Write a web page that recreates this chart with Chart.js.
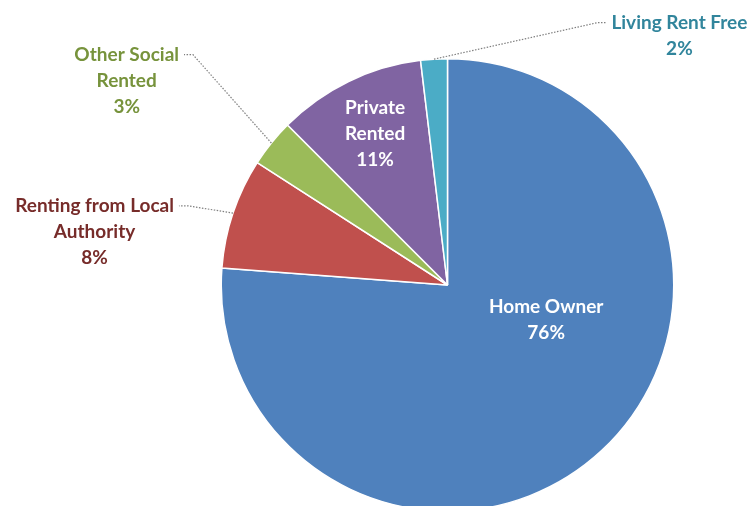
<!DOCTYPE html>
<html>
<head>
<meta charset="utf-8">
<script src="https://cdn.jsdelivr.net/npm/chart.js@4/dist/chart.umd.min.js"></script>
<style>
  html, body { margin: 0; padding: 0; background: #fff; overflow: hidden; }
  #wrap { width: 753px; height: 512px; position: relative; }
</style>
</head>
<body>
<div id="wrap"><canvas id="pie"></canvas></div>
<script>
// tenure split, clockwise from 12 o'clock
var categories = ["Home Owner", "Renting from Local Authority", "Other Social Rented", "Private Rented", "Living Rent Free"];
var shares = [76.2, 7.9, 3.4, 10.6, 1.9];
var labelLines = [["Home Owner"], ["Renting from Local", "Authority"], ["Other Social", "Rented"], ["Private", "Rented"], ["Living Rent Free"]];

var sliceColors = ["#4F81BD", "#C0504D", "#9BBB59", "#8064A2", "#4BACC6"];
var textColors = ["#FFFFFF", "#772C2A", "#77933C", "#FFFFFF", "#31859C"];
// label anchor relative to centre, in units of radius; leader = draw dotted line to it
var labelPos = [
  { x: 0.436, y: 0.155, leader: false },
  { x: -1.560, y: -0.235, leader: true },
  { x: -1.418, y: -0.903, leader: true },
  { x: -0.320, y: -0.668, leader: false },
  { x: 1.025, y: -1.102, leader: true }
];

var FONT = "bold 19px Lato";
var LINE_H = 26;

var labelPlugin = {
  id: "sliceLabels",
  afterDatasetsDraw: function (chart) {
    var ctx = chart.ctx;
    var meta = chart.getDatasetMeta(0);
    var total = shares.reduce(function (a, b) { return a + b; }, 0);
    ctx.save();
    ctx.font = FONT;
    ctx.textAlign = "center";
    ctx.textBaseline = "middle";
    meta.data.forEach(function (arc, i) {
      var p = arc.getProps(["x", "y", "startAngle", "endAngle", "outerRadius"], true);
      var r = p.outerRadius;
      var lines = labelLines[i].concat([Math.round(shares[i] / total * 100) + "%"]);
      var cx = p.x + labelPos[i].x * r;
      var cy = p.y + labelPos[i].y * r;
      var top = cy - (lines.length - 1) * LINE_H / 2;

      if (labelPos[i].leader) {
        var mid = (p.startAngle + p.endAngle) / 2;
        var ax = p.x + Math.cos(mid) * r;
        var ay = p.y + Math.sin(mid) * r;
        var w = ctx.measureText(lines[0]).width;
        var side = ax > cx ? 1 : -1;
        var ex = cx + side * (w / 2 + 5);
        var bx = ex + side * 9;
        ctx.strokeStyle = "#7F7F7F";
        ctx.lineWidth = 1.2;
        ctx.setLineDash([1.5, 1.5]);
        ctx.beginPath();
        ctx.moveTo(ax, ay);
        ctx.lineTo(bx, top);
        ctx.lineTo(ex, top);
        ctx.stroke();
        ctx.setLineDash([]);
      }

      ctx.fillStyle = textColors[i];
      lines.forEach(function (t, k) {
        ctx.fillText(t, cx, top + k * LINE_H);
      });
    });
    ctx.restore();
  }
};

new Chart(document.getElementById("pie"), {
  type: "pie",
  data: {
    labels: categories,
    datasets: [{
      data: shares,
      backgroundColor: sliceColors,
      borderColor: "#FFFFFF",
      borderWidth: 1.5,
      hoverOffset: 0
    }]
  },
  options: {
    responsive: true,
    maintainAspectRatio: false,
    animation: false,
    events: [],
    layout: { padding: { top: 58, bottom: 0, left: 220, right: 78 } },
    plugins: {
      legend: { display: false },
      tooltip: { enabled: false }
    }
  },
  plugins: [labelPlugin]
});
</script>
</body>
</html>
